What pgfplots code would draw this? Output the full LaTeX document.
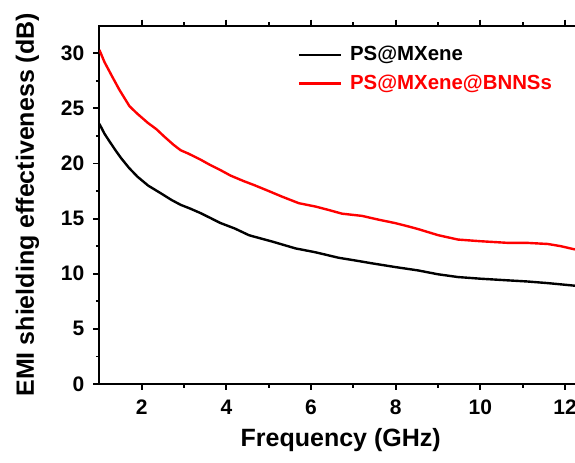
\documentclass[border=0pt]{standalone}
\usepackage{fontspec}
\setmainfont{Liberation Sans}
\usepackage{pgfplots}
\pgfplotsset{compat=1.18}

\begin{document}
\begin{tikzpicture}
  \begin{axis}[
    scale only axis,
    width=241.3pt, height=179.15pt,
    xmin=1, xmax=12.4,
    ymin=0, ymax=32.5,
    xtick={2,4,...,12},
    ytick={0,5,...,30},
    minor x tick num=1,
    minor y tick num=1,
    tick align=outside,
    major tick length=3pt,
    minor tick length=1.8pt,
    every tick/.style={black, line width=0.9pt},
    axis line style={line width=1pt},
    /pgf/number format/assume math mode=true,
    ticklabel style={font=\fontsize{10.5}{12}\selectfont\bfseries},
    xticklabel style={yshift=-1.5pt},
    yticklabel style={xshift=-1pt},
    xlabel={Frequency (GHz)},
    ylabel={EMI shielding effectiveness (dB)},
    every axis x label/.style={at={(rel axis cs:0.5,0)}, anchor=center, yshift=-28pt,
      font=\fontsize{12.5}{14}\selectfont\bfseries},
    every axis y label/.style={at={(rel axis cs:0,0.5)}, anchor=center, rotate=90, yshift=36pt,
      font=\fontsize{12.5}{14}\selectfont\bfseries},
    legend style={draw=none, fill=none, at={(rel axis cs:0.41,0.955)}, anchor=north west,
      font=\fontsize{10.2}{12}\selectfont\bfseries, row sep=1.5pt, inner sep=0pt,
      /tikz/every odd column/.append style={column sep=2pt}},
    legend cell align=left,
    legend image code/.code={\draw[#1] (0pt,0pt) -- (21pt,0pt);},
  ]
  \addplot[black, line width=1.2pt] coordinates {
    (1.0,23.6) (1.12,22.7) (1.24,22.0) (1.38,21.2) (1.51,20.5) (1.7,19.6)
    (1.9,18.8) (2.15,18.0) (2.45,17.3) (2.7,16.7) (2.92,16.25) (3.15,15.9)
    (3.39,15.5) (3.6,15.1) (3.86,14.6) (4.2,14.1) (4.53,13.5) (4.65,13.37)
    (5.1,12.9) (5.63,12.3) (6.1,11.95) (6.65,11.45) (7.05,11.2) (7.43,10.95)
    (8.0,10.6) (8.53,10.3) (9.0,9.95) (9.47,9.7) (10.0,9.55) (10.65,9.4)
    (11.1,9.3) (11.59,9.15) (12.0,9.0) (12.4,8.85)
  };
  \addlegendentry{PS@MXene}
  \addplot[red, line width=1.2pt] coordinates {
    (1.0,30.3) (1.12,29.2) (1.3,27.9) (1.47,26.7) (1.71,25.2) (1.9,24.5)
    (2.14,23.7) (2.35,23.1) (2.53,22.45) (2.75,21.7) (2.92,21.2) (3.1,20.9)
    (3.39,20.35) (3.6,19.9) (3.86,19.4) (4.1,18.9) (4.41,18.4) (4.65,18.05)
    (5.0,17.5) (5.31,17.0) (5.71,16.4) (6.1,16.1) (6.4,15.8) (6.73,15.45)
    (7.2,15.25) (7.6,14.9) (7.98,14.6) (8.29,14.3) (8.53,14.05) (9.0,13.5)
    (9.47,13.1) (10.0,12.95) (10.65,12.8) (11.1,12.8) (11.59,12.7) (11.9,12.5)
    (12.18,12.25) (12.4,12.1)
  };
  \addlegendentry{\textcolor{red}{PS@MXene@BNNSs}}
  \coordinate (SW) at (rel axis cs:0,0);
  \coordinate (NW) at (rel axis cs:0,1);
  \end{axis}
  \pgfresetboundingbox
  \path[use as bounding box] ([xshift=-49.7pt,yshift=-39.5pt]SW) rectangle ([xshift=237.8pt,yshift=12.85pt]NW);
\end{tikzpicture}
\end{document}
